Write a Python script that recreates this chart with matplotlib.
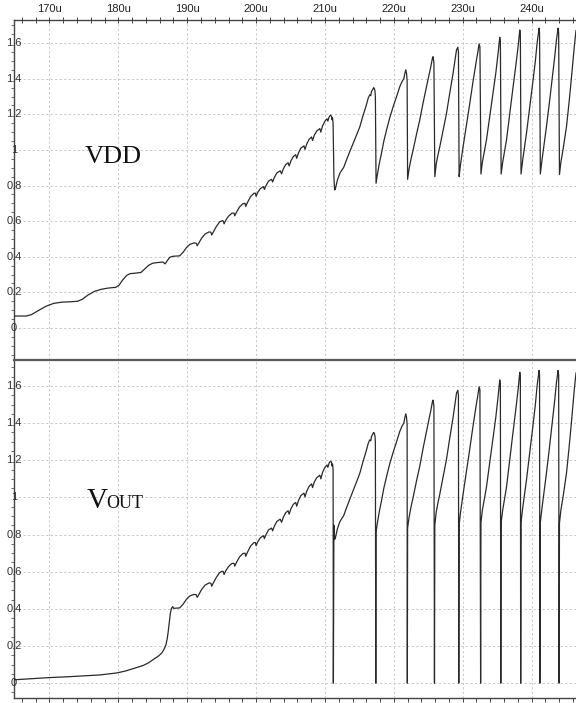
import numpy as np
import matplotlib
matplotlib.use("Agg")
import matplotlib.pyplot as plt
from matplotlib.ticker import MultipleLocator
import matplotlib.transforms as mtransforms

# ---------------- data (time in microseconds, voltage in V) ----------------
vdd_t = [164.85, 166.6, 167.4, 168.4, 169.5, 170.6, 171.8, 173.0, 174.1, 174.8, 175.6, 176.5,
         177.5, 178.5, 179.6, 180.1, 180.6, 181.2, 181.7, 182.5, 183.3, 183.8, 184.4, 185.0,
         185.8, 186.5, 186.8, 187.1, 187.5, 188.0, 188.9,
         189.4, 189.9, 190.4, 191.0, 191.3, 191.45,
         191.7, 192.1, 192.6, 193.2, 193.45, 193.55,
         193.8, 194.2, 194.7, 195.1, 195.25, 195.35,
         195.6, 196.0, 196.5, 196.8, 196.9,
         197.15, 197.6, 198.1, 198.4, 198.5,
         198.75, 199.2, 199.7, 199.9, 200.0,
         200.25, 200.6, 201.0, 201.1, 201.2,
         201.45, 201.8, 202.25, 202.4,
         202.65, 203.0, 203.5, 203.7,
         203.95, 204.3, 204.65, 204.8,
         205.05, 205.4, 205.75, 205.9,
         206.15, 206.5, 206.95, 207.1,
         207.35, 207.7, 208.05, 208.2,
         208.45, 208.8, 209.25, 209.4,
         209.65, 210.0, 210.3, 210.42,
         210.6, 210.8, 210.95, 211.02, 211.1, 211.18,
         211.3, 211.4, 211.5,
         211.8, 212.16, 212.5, 212.7, 213.13, 213.6, 214.1, 214.6, 215.07, 215.5, 215.79,
         216.1, 216.27, 216.5, 216.65, 216.76, 217.0, 217.1, 217.25, 217.32, 217.42,
         217.6, 217.9, 218.2, 218.55, 218.94, 219.4, 219.9, 220.4, 220.87, 221.2, 221.45,
         221.6, 221.74, 221.85, 221.93, 222.0,
         222.2, 222.5, 222.8, 223.3, 223.77, 224.25, 224.74, 225.1, 225.37, 225.6, 225.7,
         225.82, 225.95,
         226.15, 226.4, 226.68, 227.15, 227.65, 228.1, 228.6, 228.9, 229.1, 229.29, 229.38,
         229.48,
         229.65, 230.06, 230.55, 231.03, 231.5, 232.0, 232.2, 232.38, 232.5, 232.65,
         232.85, 233.45, 233.9, 234.41, 234.8, 235.14, 235.38, 235.47, 235.58,
         235.8, 236.36, 236.85, 237.32, 237.7, 238.04, 238.29, 238.37, 238.47,
         238.7, 239.26, 239.75, 240.22, 240.55, 240.8, 241.09, 241.16, 241.27,
         241.5, 242.16, 242.6, 243.03, 243.35, 243.61, 243.85, 243.93, 244.05,
         244.25, 244.6, 245.07, 245.45, 245.8, 246.2, 246.45]
vdd_v = [0.067, 0.067, 0.075, 0.098, 0.122, 0.138, 0.145, 0.147, 0.15, 0.162, 0.185, 0.205,
         0.217, 0.224, 0.228, 0.24, 0.268, 0.295, 0.305, 0.308, 0.312, 0.33, 0.352, 0.364,
         0.368, 0.37, 0.36, 0.378, 0.398, 0.403, 0.405,
         0.425, 0.452, 0.47, 0.478, 0.476, 0.462,
         0.478, 0.505, 0.528, 0.54, 0.537, 0.522,
         0.54, 0.568, 0.595, 0.603, 0.6, 0.585,
         0.605, 0.628, 0.645, 0.645, 0.63,
         0.65, 0.68, 0.698, 0.7, 0.683,
         0.705, 0.738, 0.757, 0.757, 0.74,
         0.762, 0.782, 0.793, 0.793, 0.778,
         0.8, 0.825, 0.835, 0.82,
         0.845, 0.87, 0.883, 0.866,
         0.893, 0.918, 0.928, 0.91,
         0.938, 0.963, 0.973, 0.953,
         0.983, 1.01, 1.023, 1.003,
         1.033, 1.06, 1.073, 1.053,
         1.083, 1.106, 1.12, 1.1,
         1.135, 1.162, 1.175, 1.162,
         1.185, 1.195, 1.19, 1.17, 1.18, 1.15,
         0.85, 0.775, 0.78,
         0.83, 0.869, 0.89, 0.9, 0.944, 0.99, 1.037, 1.085, 1.131, 1.19, 1.225,
         1.265, 1.29, 1.31, 1.305, 1.328, 1.345, 1.35, 1.335, 1.30, 0.813,
         0.86, 0.925, 0.98, 1.05, 1.112, 1.18, 1.243, 1.30, 1.356, 1.385, 1.40,
         1.43, 1.45, 1.43, 1.39, 0.835,
         0.89, 0.95, 1.0, 1.09, 1.169, 1.265, 1.356, 1.42, 1.468, 1.515, 1.524,
         1.49, 0.85,
         0.92, 0.97, 1.019, 1.11, 1.206, 1.315, 1.43, 1.51, 1.562, 1.577, 1.55,
         0.85,
         0.91, 1.019, 1.14, 1.262, 1.385, 1.506, 1.55, 1.596, 1.58, 0.865,
         0.93, 1.056, 1.18, 1.318, 1.43, 1.543, 1.633, 1.61, 0.865,
         0.93, 1.056, 1.21, 1.356, 1.47, 1.58, 1.674, 1.65, 0.865,
         0.94, 1.094, 1.245, 1.393, 1.5, 1.6, 1.684, 1.66, 0.865,
         0.94, 1.131, 1.27, 1.412, 1.52, 1.618, 1.684, 1.66, 0.862,
         0.93, 1.01, 1.131, 1.27, 1.41, 1.58, 1.67]

# VOUT before it follows VDD
vout_early_t = [164.85, 167.5, 170.0, 172.5, 174.5, 177.3, 179.8, 181.0, 182.2, 183.6, 184.4,
                185.1, 185.8, 186.3, 186.6, 186.9, 187.1, 187.25, 187.4, 187.55, 187.7, 187.9]
vout_early_v = [0.018, 0.024, 0.03, 0.034, 0.038, 0.044, 0.055, 0.065, 0.079, 0.095, 0.11,
                0.128, 0.145, 0.162, 0.18, 0.205, 0.24, 0.28, 0.33, 0.375, 0.402, 0.412]
# instants at which VOUT collapses to 0 V
vout_drop_t = [211.22, 217.38, 221.96, 225.9, 229.43, 232.6, 235.53, 238.42, 241.2, 244.0]

x_ticks = [170, 180, 190, 200, 210, 220, 230, 240]
x_tick_labels = ["170u", "180u", "190u", "200u", "210u", "220u", "230u", "240u"]
y_ticks = [0, 0.2, 0.4, 0.6, 0.8, 1.0, 1.2, 1.4, 1.6]
y_tick_labels = ["0", "0.2", "0.4", "0.6", "0.8", "1", "1.2", "1.4", "1.6"]

# -------- build VOUT series from the read values --------
vdd_t_a = np.array(vdd_t)
vdd_v_a = np.array(vdd_v)
late = vdd_t_a >= 188.0
vt = vdd_t_a[late]
vv = vdd_v_a[late]
idx = np.searchsorted(vt, vout_drop_t)
vt = np.insert(vt, idx, vout_drop_t)
vv = np.insert(vv, idx, np.zeros(len(vout_drop_t)))
vout_t = np.concatenate([vout_early_t, vt])
vout_v = np.concatenate([vout_early_v, vv])

# ---------------- figure ----------------
W, H = 576, 703
fig = plt.figure(figsize=(W / 100, H / 100), dpi=100)
fig.patch.set_facecolor("white")

left = 14 / W
ax1 = fig.add_axes([left, 1 - 360 / H, 1 - left, (360 - 20) / H])
ax2 = fig.add_axes([left, 1 - 698 / H, 1 - left, (698 - 360) / H])

xlim = (164.85, 246.45)
line_col = "#2a2a2a"
grid_kw = dict(color="#c4c4c4", linestyle=(0, (2.5, 2.5)), linewidth=0.65)
tick_font = ["Liberation Sans", "DejaVu Sans"]

for ax in (ax1, ax2):
    ax.set_xlim(*xlim)
    ax.set_xticks(x_ticks)
    ax.xaxis.set_minor_locator(MultipleLocator(2))
    ax.set_yticks(y_ticks)
    ax.set_yticklabels([])
    ax.yaxis.set_minor_locator(MultipleLocator(0.05))
    ax.grid(True, which="major", **grid_kw)
    ax.spines["right"].set_visible(False)
    ax.spines["left"].set_color("#444444")
    ax.spines["left"].set_linewidth(1.0)
    ax.tick_params(axis="y", which="major", length=0)
    ax.tick_params(axis="y", which="minor", direction="out", length=2, width=0.6, color="#555555")
    trans = mtransforms.blended_transform_factory(ax.transAxes, ax.transData)
    for yv, lab in zip(y_ticks, y_tick_labels):
        ax.text(0.0, yv, lab, transform=trans, ha="center", va="center", fontsize=8,
                color="#333333", family=tick_font, zorder=5)

ax1.set_ylim(-0.18, 1.73)
ax2.set_ylim(-0.08, 1.74)

# top panel: tick labels on the top axis
ax1.xaxis.tick_top()
ax1.set_xticklabels(x_tick_labels, fontsize=8, family=tick_font, color="#222222")
ax1.tick_params(axis="x", which="both", direction="inout", length=5, width=0.7,
                color="#444444", pad=2.0)
ax1.spines["top"].set_color("#444444")
ax1.spines["top"].set_linewidth(1.0)
ax1.spines["bottom"].set_visible(False)

# bottom panel: ticks on the bottom axis, no labels
ax2.set_xticklabels([])
ax2.tick_params(axis="x", which="both", direction="out", length=3, width=0.7,
                color="#444444", top=False, bottom=True)
ax2.spines["top"].set_color("#5a5a5a")
ax2.spines["top"].set_linewidth(1.6)
ax2.spines["bottom"].set_color("#444444")
ax2.spines["bottom"].set_linewidth(1.0)

ax1.plot(vdd_t_a, vdd_v_a, color=line_col, lw=0.9, zorder=3)
ax2.plot(vout_t, vout_v, color=line_col, lw=0.9, zorder=3)

serif = ["Liberation Serif", "DejaVu Serif"]
ax1.text(0.176, 0.579, "VDD", transform=ax1.transAxes, ha="center", va="baseline",
         fontsize=19, family=serif, color="#111111")
ax2.text(0.129, 0.562, "V", transform=ax2.transAxes, ha="left", va="baseline",
         fontsize=21, family=serif, color="#111111")
ax2.text(0.164, 0.562, "OUT", transform=ax2.transAxes, ha="left", va="baseline",
         fontsize=13, family=serif, color="#111111")

fig.savefig("out.png", dpi=100, facecolor="white")
